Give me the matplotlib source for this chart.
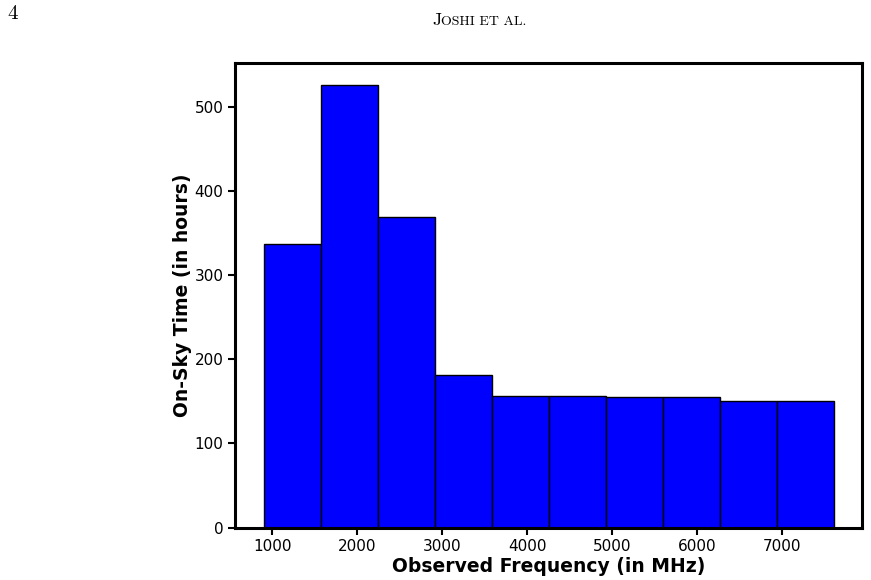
import numpy as np
import matplotlib.pyplot as plt

# bin edges (MHz) and on-sky hours per bin
bin_edges = [900, 1571, 2242, 2913, 3584, 4255, 4926, 5597, 6268, 6939, 7610]
hours = [337, 526, 369, 181, 156, 156, 155, 155, 150.5, 150.5]
xticks = [1000, 2000, 3000, 4000, 5000, 6000, 7000]
yticks = [0, 100, 200, 300, 400, 500]

fig = plt.figure(figsize=(8.71, 5.8), dpi=100)
ax = fig.add_axes([0.270, 0.0905, 0.720, 0.8005])

edges = np.array(bin_edges)
ax.bar(edges[:-1], hours, width=np.diff(edges), align='edge',
       color='blue', edgecolor='black', linewidth=1.0)

ax.set_xticks(xticks)
ax.set_yticks(yticks)
ax.tick_params(labelsize=11, length=5, width=1.5)
for s in ax.spines.values():
    s.set_linewidth(2.2)

ax.set_xlabel('Observed Frequency (in MHz)', fontsize=13.5, fontweight='bold', labelpad=2)
ax.set_ylabel('On-Sky Time (in hours)', fontsize=13.5, fontweight='bold', labelpad=2)

# page header
fig.text(7 / 871, 1 - 14 / 580, '4', family='cmr10', fontsize=15, va='center', ha='left')
j = fig.text(432 / 871, 1 - 25 / 580, 'J', family='cmr10', fontsize=13, va='baseline', ha='left')
ax.annotate('OSHI ET AL.', xy=(1, 0), xycoords=j, family='cmr10', fontsize=10,
            va='bottom', ha='left', annotation_clip=False)

fig.savefig('out.png', dpi=100)
